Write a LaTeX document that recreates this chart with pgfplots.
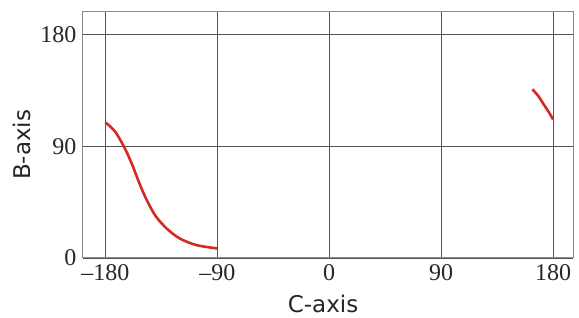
\documentclass[border=0pt]{standalone}
\usepackage{pgfplots}
\pgfplotsset{compat=1.18}
\usepackage{fontspec}
\setmainfont{Liberation Serif}
\newfontfamily\labelfont{DejaVu Sans}
\definecolor{curvered}{HTML}{D42A22}
\definecolor{gridgray}{HTML}{555555}
\definecolor{framegray}{HTML}{8A8A8A}
\begin{document}
\begin{tikzpicture}
\begin{axis}[
  scale only axis,
  width=490pt, height=246pt,
  xmin=-198, xmax=196, ymin=0, ymax=198,
  xtick={-180,-90,0,90,180},
  xticklabels={--180,--90,0,90,180},
  ytick={0,90,180},
  yticklabels={0,90,180},
  major tick length=0pt,
  grid=major,
  major grid style={gridgray, line width=0.9pt},
  axis line style={framegray, line width=1pt},
  tick label style={font=\fontsize{24}{26}\selectfont, text=black!85},
  xticklabel style={yshift=-3pt},
  yticklabel style={xshift=-3pt},
  xlabel={\labelfont C-axis},
  ylabel={\labelfont B-axis},
  label style={font=\fontsize{23}{26}\selectfont, text=black!85},
  xlabel style={at={(axis description cs:0.49,-0.22)}, anchor=base},
  ylabel style={at={(axis description cs:-0.125,0.46)}, anchor=center},
  clip=false,
]
\addplot[curvered, line width=2.6pt, smooth, tension=0.5] coordinates {
  (-180,109) (-176,105.8) (-172,101.5) (-168,95) (-163,85.5) (-158,74) (-153,61)
  (-147.6,48.4) (-139.7,33.9) (-130.4,23.4) (-119.8,15.5) (-106.5,10.3) (-90,7.7)
};
\addplot[curvered, line width=2.6pt, smooth, tension=0.5] coordinates {
  (163.3,135.8) (168,130.5) (172.6,123.4) (176.5,117.5) (180,111.5)
};
\end{axis}
\path (current axis.south west) ++(-83pt,-60pt) coordinate (bbA);
\path (current axis.north east) ++(6pt,12pt) coordinate (bbB);
\pgfresetboundingbox
\path (bbA) rectangle (bbB);
\end{tikzpicture}
\end{document}
